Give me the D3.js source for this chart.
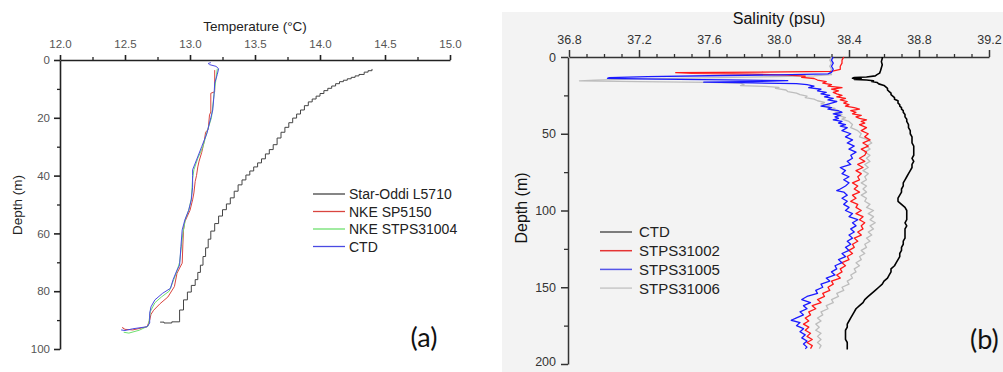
<!DOCTYPE html>
<html>
<head>
<meta charset="utf-8">
<script src="https://cdn.jsdelivr.net/npm/d3@7"></script>
<style>
  body { margin: 0; background: #fff; }
  svg { display: block; }
</style>
</head>
<body>
<svg width="1003" height="372"></svg>
<script>
// ---------- data: panel (a) temperature, pairs are [depth m, temperature °C]
const tempTicks = [12.0, 12.5, 13.0, 13.5, 14.0, 14.5, 15.0];
const tempMinor = [12.25, 12.75, 13.25, 13.75, 14.25, 14.75];
const depthTicksA = [0, 20, 40, 60, 80, 100];
const depthMinorA = [10, 30, 50, 70, 90];

// Star-Oddi logs in coarse steps: each pair = depth where a new level starts
const starOddi = [
  [3.1,14.40],[3.7,14.37],[4.2,14.34],[5.0,14.30],[5.5,14.27],[6.0,14.24],[6.5,14.21],
  [7.0,14.18],[7.5,14.15],[8.2,14.12],[9.0,14.09],[9.8,14.06],[10.6,14.03],[11.6,14.00],
  [12.5,13.97],[13.5,13.94],[14.5,13.91],[15.8,13.88],[17.3,13.85],[18.7,13.82],[20.1,13.79],
  [21.7,13.76],[23.3,13.73],[25.0,13.70],[27.0,13.67],[29.3,13.64],[31.0,13.61],[32.5,13.58],
  [34.2,13.55],[35.6,13.52],[37.0,13.49],[38.4,13.46],[39.8,13.43],[41.5,13.40],[43.2,13.37],
  [45.4,13.34],[47.7,13.31],[49.8,13.28],[51.8,13.25],[54.0,13.22],[56.6,13.19],[59.2,13.16],
  [62.0,13.14],[65.0,13.12],[68.0,13.10],[71.0,13.08],[73.5,13.06],[76.0,13.04],[78.0,13.01],
  [80.3,12.98],[83.0,12.95],[86.5,12.92],[90.0,12.92],[90.6,12.86],[91.0,12.80],[90.7,12.77]
];
const nkeSP5150 = [
  [3.5,13.19],[11,13.19],[11.5,13.16],[18,13.16],[19,13.15],[24,13.14],[25,13.12],[28,13.11],
  [30,13.10],[32,13.09],[35,13.07],[37,13.06],[40,13.05],[42,13.04],[46,13.03],[48.4,13.02],
  [52,13.00],[56,12.96],[58.8,12.95],[64,12.945],[70.3,12.94],[72,12.92],[73.8,12.90],
  [78.4,12.88],[82,12.83],[84.3,12.77],[86.6,12.72],[88,12.70],[90,12.69],[92.3,12.67],
  [93.4,12.56],[93.2,12.50],[92.6,12.48],[92.9,12.49]
];
const nkeSTPS31004 = [
  [3,13.21],[10,13.19],[20,13.165],[25,13.13],[30,13.10],[34,13.06],[38,13.03],[41,13.02],
  [48,13.01],[52,12.99],[55,12.965],[60,12.945],[66,12.93],[70,12.92],[73,12.90],[76,12.875],
  [80,12.84],[82,12.78],[84,12.73],[87,12.695],[92,12.68],[93.5,12.61],[94.5,12.53],[94.2,12.49]
];
const ctdA = [
  [0.9,13.16],[1.2,13.14],[1.6,13.15],[2.2,13.20],[3,13.22],[5,13.21],[8,13.19],[12,13.185],
  [17.3,13.175],[20,13.16],[25.4,13.13],[30,13.09],[34.6,13.05],[38,13.02],[40,13.02],
  [44,13.02],[48.4,13.01],[52,12.99],[55.4,12.96],[58.8,12.94],[64.6,12.93],[71,12.92],
  [72.7,12.90],[76,12.87],[79,12.85],[80.7,12.79],[83,12.73],[85.4,12.70],[87.6,12.69],
  [91,12.69],[92.3,12.67],[93,12.56],[93.6,12.50],[93.4,12.47]
];

// ---------- data: panel (b) salinity, pairs are [depth m, salinity psu]
const salTicks = [36.8, 37.2, 37.6, 38.0, 38.4, 38.8, 39.2];
const salMinor = [36.9,37.0,37.1,37.3,37.4,37.5,37.7,37.8,37.9,38.1,38.2,38.3,38.5,38.6,38.7,38.9,39.0,39.1];
const depthTicksB = [0, 50, 100, 150, 200];
const depthMinorB = [25, 75, 125, 175];

const ctdB = [
  [0,38.59],[1,38.59],[3,38.585],[5,38.59],[7,38.585],[9,38.58],[10.5,38.575],[11.5,38.56],
  [12.3,38.55],[13,38.50],[13.4,38.43],[13.8,38.42],[14.2,38.47],[14.6,38.43],[15,38.50],
  [15.5,38.54],[16,38.53],[16.6,38.56],[17.5,38.57],[18.5,38.60],[19.5,38.61],[20.5,38.62],
  [21.5,38.62],[22.5,38.63],[23.5,38.64],[24.5,38.64],[25.5,38.65],[26.5,38.66],[27.5,38.66],
  [28.5,38.68],[30,38.68],[31,38.69],[32,38.69],[33,38.70],[34,38.70],[35,38.71],[36,38.71],
  [37.5,38.72],[39,38.72],[40.5,38.73],[42,38.73],[44,38.74],[46,38.74],[48,38.75],[50,38.75],
  [52,38.76],[54,38.76],[56,38.76],[58,38.77],[60,38.77],[62,38.77],[64,38.77],[66,38.76],
  [68,38.77],[70,38.76],[72,38.76],[74,38.75],[76,38.74],[78,38.73],[80,38.72],[82,38.71],
  [84,38.71],[86,38.70],[88,38.70],[90,38.69],[92,38.68],[94,38.68],[96,38.70],[98,38.72],
  [100,38.73],[102,38.73],[104,38.73],[106,38.73],[108,38.72],[110,38.73],[112,38.72],
  [114,38.72],[116,38.72],[118,38.72],[120,38.71],[122,38.71],[124,38.70],[126,38.70],
  [128,38.69],[130,38.69],[132,38.68],[134,38.67],[136,38.66],[138,38.64],[140,38.64],
  [142,38.63],[144,38.62],[146,38.60],[148,38.59],[150,38.57],[152,38.55],[154,38.53],
  [156,38.51],[158,38.49],[160,38.48],[162,38.46],[164,38.44],[166,38.43],[168,38.42],
  [170,38.41],[172,38.40],[174,38.39],[176,38.39],[178,38.38],[180,38.38],[182,38.38],
  [184,38.38],[186,38.39],[188,38.39],[190.5,38.39]
];
const stps31002 = [
  [0,38.37],[2,38.36],[4,38.36],[6,38.35],[8,38.35],[9.3,38.30],[9.8,37.90],[10.2,37.41],
  [10.7,37.50],[11.2,37.85],[11.8,38.05],[12.5,38.15],[13.3,38.13],[14,38.20],[15,38.22],
  [16,38.27],[17,38.25],[18,38.30],[19,38.28],[20,38.36],[21,38.30],[22,38.34],[23,38.31],
  [24,38.33],[25,38.36],[26,38.33],[27,38.38],[28,38.35],[29,38.39],[30,38.37],[31,38.40],
  [32,38.38],[33,38.43],[34,38.46],[35,38.41],[36,38.44],[37,38.42],[38,38.47],[39,38.44],
  [40,38.46],[41,38.50],[42,38.47],[43,38.49],[44,38.46],[46,38.50],[48,38.47],[50,38.51],
  [52,38.49],[54,38.52],[56,38.48],[58,38.51],[60,38.47],[62,38.50],[64,38.49],[66,38.46],
  [68,38.49],[70,38.45],[72,38.48],[74,38.44],[76,38.47],[78,38.45],[80,38.46],[82,38.42],
  [84,38.45],[86,38.43],[88,38.46],[90,38.42],[92,38.44],[94,38.41],[96,38.45],[98,38.44],
  [100,38.47],[102,38.44],[104,38.48],[106,38.46],[108,38.49],[110,38.47],[112,38.48],
  [114,38.45],[116,38.47],[118,38.43],[120,38.45],[122,38.42],[124,38.43],[126,38.40],
  [128,38.42],[130,38.39],[132,38.40],[134,38.36],[136,38.38],[138,38.35],[140,38.36],
  [142,38.33],[144,38.35],[146,38.30],[148,38.31],[150,38.28],[152,38.29],[154,38.25],
  [156,38.26],[158,38.22],[160,38.24],[162,38.19],[164,38.21],[166,38.17],[168,38.18],
  [170,38.15],[172,38.17],[174,38.14],[176,38.17],[178,38.15],[180,38.18],[182,38.16],
  [184,38.19],[186,38.16],[188,38.19],[190,38.18]
];
const stps31005 = [
  [0,38.31],[2,38.30],[4,38.31],[6,38.30],[8,38.31],[10,38.30],[11,38.28],[11.6,38.00],
  [12.2,37.60],[12.8,37.25],[13.4,37.03],[13.9,37.02],[14.4,37.30],[14.9,37.70],[15.4,38.05],
  [15.9,37.90],[16.4,37.57],[16.9,37.85],[17.4,38.10],[18,38.16],[19,38.20],[20,38.17],
  [21,38.24],[22,38.22],[23,38.27],[24,38.24],[25,38.29],[26,38.26],[27,38.31],[28,38.28],
  [29,38.33],[30,38.30],[31,38.27],[32,38.24],[33,38.30],[34,38.28],[35,38.34],[36,38.36],
  [37,38.31],[38,38.35],[39,38.32],[40,38.34],[41,38.31],[42,38.36],[43,38.34],[44,38.38],
  [45,38.35],[46,38.39],[48,38.36],[50,38.41],[52,38.38],[54,38.42],[56,38.39],[58,38.43],
  [60,38.40],[62,38.44],[64,38.41],[66,38.42],[68,38.39],[70,38.41],[72,38.35],[74,38.38],
  [76,38.36],[78,38.40],[80,38.37],[82,38.40],[84,38.38],[86,38.35],[87,38.33],[88,38.37],
  [90,38.39],[92,38.36],[94,38.39],[96,38.37],[98,38.40],[100,38.38],[102,38.42],[104,38.40],
  [106,38.45],[108,38.42],[110,38.44],[112,38.41],[114,38.43],[116,38.40],[118,38.42],
  [120,38.39],[122,38.41],[124,38.38],[126,38.40],[128,38.36],[130,38.38],[132,38.34],
  [134,38.36],[136,38.32],[138,38.33],[140,38.30],[142,38.32],[144,38.27],[146,38.29],
  [148,38.24],[150,38.25],[152,38.21],[154,38.22],[156,38.16],[158,38.13],[160,38.18],
  [162,38.14],[164,38.16],[166,38.12],[168,38.14],[170,38.10],[171.5,38.07],[173,38.12],
  [175,38.10],[177,38.14],[179,38.12],[181,38.15],[183,38.13],[185,38.16],[187,38.14],
  [189,38.16],[190,38.15]
];
const stps31006 = [
  [0,38.30],[2,38.29],[4,38.30],[6,38.29],[8,38.30],[10,38.29],[11.5,38.30],[12.3,38.20],
  [13,37.90],[13.7,37.50],[14.4,37.15],[15,36.95],[15.5,36.86],[16,37.20],[16.5,37.60],
  [17,37.78],[18,37.80],[18.6,37.78],[19.2,37.92],[19.8,38.00],[20.5,37.98],[21.5,38.04],
  [22.5,38.05],[23.5,38.10],[24.5,38.12],[25.5,38.16],[26.5,38.15],[27.5,38.20],[28.5,38.22],
  [29.5,38.26],[30.5,38.24],[31.5,38.29],[32.5,38.27],[33.5,38.32],[34.5,38.30],[35.5,38.34],
  [36.5,38.32],[37.5,38.36],[38.5,38.35],[39.5,38.38],[40.5,38.36],[42,38.40],[44,38.42],
  [46,38.41],[48,38.45],[50,38.47],[52,38.46],[54,38.51],[56,38.53],[58,38.50],[60,38.52],
  [62,38.49],[64,38.52],[66,38.50],[68,38.52],[70,38.49],[72,38.51],[74,38.48],[76,38.51],
  [78,38.49],[80,38.50],[82,38.47],[84,38.50],[86,38.48],[88,38.50],[90,38.47],[92,38.50],
  [94,38.49],[96,38.52],[98,38.50],[100,38.54],[102,38.51],[104,38.54],[106,38.52],
  [108,38.55],[110,38.52],[112,38.54],[114,38.51],[116,38.53],[118,38.50],[120,38.52],
  [122,38.49],[124,38.50],[126,38.47],[128,38.49],[130,38.46],[132,38.47],[134,38.44],
  [136,38.46],[138,38.43],[140,38.44],[142,38.41],[144,38.42],[146,38.39],[148,38.40],
  [150,38.36],[152,38.37],[154,38.33],[156,38.34],[158,38.30],[160,38.31],[162,38.27],
  [164,38.28],[166,38.24],[168,38.25],[170,38.22],[172,38.24],[174,38.21],[176,38.23],
  [178,38.21],[180,38.24],[182,38.22],[184,38.24],[186,38.22],[188,38.24],[190,38.23]
];

const FONT = "Liberation Sans, Arial, sans-serif";
const svg = d3.select("svg");

function styleAxis(g, col, w, txtCol, size) {
  g.selectAll("path, line").attr("stroke", col).attr("stroke-width", w);
  g.selectAll("text").attr("fill", txtCol).attr("font-size", size).attr("font-family", FONT);
}

// ================= panel (a) =================
let ax = d3.scaleLinear().domain([12, 15]).range([60, 450]);
let ay = d3.scaleLinear().domain([0, 100]).range([60, 349]);
let ga = svg.append("g");

ga.append("g").attr("transform", "translate(0,60)")
  .call(d3.axisTop(ax).tickValues(tempMinor).tickSize(3).tickFormat("").tickSizeOuter(0))
  .call(g => g.select(".domain").remove())
  .call(g => styleAxis(g, "#222", 1.3, "#555", 11.5));
ga.append("g").attr("transform", "translate(0,60)")
  .call(d3.axisTop(ax).tickValues(tempTicks).tickSize(5).tickPadding(7).tickSizeOuter(0).tickFormat(d3.format(".1f")))
  .call(g => styleAxis(g, "#222", 1.6, "#555", 11.5));
ga.append("g").attr("transform", "translate(60,0)")
  .call(d3.axisLeft(ay).tickValues(depthMinorA).tickSize(3).tickFormat("").tickSizeOuter(0))
  .call(g => g.select(".domain").remove())
  .call(g => styleAxis(g, "#222", 1.3, "#555", 11.5));
ga.append("g").attr("transform", "translate(60,0)")
  .call(d3.axisLeft(ay).tickValues(depthTicksA).tickSize(6).tickPadding(4).tickSizeOuter(0))
  .call(g => styleAxis(g, "#222", 1.6, "#555", 11.5));

ga.append("text").attr("x", 255).attr("y", 31).attr("text-anchor", "middle")
  .attr("font-family", FONT).attr("font-size", 13.5).attr("fill", "#222")
  .text("Temperature (°C)");
ga.append("text").attr("transform", "translate(22,205) rotate(-90)").attr("text-anchor", "middle")
  .attr("font-family", FONT).attr("font-size", 13.5).attr("fill", "#222")
  .text("Depth (m)");

let seriesA = [
  { name: "Star-Oddi L5710", data: starOddi, color: "#444", curve: d3.curveStepBefore },
  { name: "NKE SP5150", data: nkeSP5150, color: "#d9453f", curve: d3.curveLinear },
  { name: "NKE STPS31004", data: nkeSTPS31004, color: "#6fe06f", curve: d3.curveLinear },
  { name: "CTD", data: ctdA, color: "#4a4ae2", curve: d3.curveLinear }
];
seriesA.forEach(s => {
  let line = d3.line().x(d => ax(d[1])).y(d => ay(d[0])).curve(s.curve);
  ga.append("path").attr("d", line(s.data)).attr("fill", "none")
    .attr("stroke", s.color).attr("stroke-width", 1).attr("stroke-linejoin", "round");
});

let legA = ga.append("g").attr("transform", "translate(313,194)");
seriesA.forEach((s, i) => {
  let row = legA.append("g").attr("transform", `translate(0,${i * 17.5})`);
  row.append("line").attr("x1", 0).attr("x2", 32).attr("stroke", s.color).attr("stroke-width", 1.3);
  row.append("text").attr("x", 36).attr("dy", "0.36em").attr("font-family", FONT)
    .attr("font-size", 14).attr("fill", "#222").text(s.name);
});

ga.append("text").attr("x", 424).attr("y", 347).attr("text-anchor", "middle")
  .attr("font-family", "Lato, Open Sans, sans-serif").attr("font-size", 27).attr("fill", "#111")
  .text("(a)");

// ================= panel (b) =================
let gb = svg.append("g");
gb.append("rect").attr("x", 502).attr("y", 12).attr("width", 501).attr("height", 360).attr("fill", "#f3f3f3");

let bx = d3.scaleLinear().domain([36.8, 39.2]).range([569, 989]);
let by = d3.scaleLinear().domain([0, 200]).range([57, 364]);

gb.append("g").attr("transform", "translate(0,57)")
  .call(d3.axisTop(bx).tickValues(salMinor).tickSize(3).tickFormat("").tickSizeOuter(0))
  .call(g => g.select(".domain").remove())
  .call(g => styleAxis(g, "#333", 1.3, "#333", 12.5));
gb.append("g").attr("transform", "translate(0,57)")
  .call(d3.axisTop(bx).tickValues(salTicks).tickSize(7).tickPadding(6).tickSizeOuter(0).tickFormat(d3.format(".1f")))
  .call(g => styleAxis(g, "#333", 1.5, "#333", 12.5));
gb.append("g").attr("transform", "translate(568,0)")
  .call(d3.axisLeft(by).tickValues(depthMinorB).tickSize(4).tickFormat("").tickSizeOuter(0))
  .call(g => g.select(".domain").remove())
  .call(g => styleAxis(g, "#333", 1.3, "#333", 12.5));
gb.append("g").attr("transform", "translate(568,0)")
  .call(d3.axisLeft(by).tickValues(depthTicksB).tickSize(7).tickPadding(5).tickSizeOuter(0))
  .call(g => styleAxis(g, "#333", 1.5, "#333", 12.5))
  .call(g => g.selectAll(".tick text").filter(d => d === 200).attr("dy", "0.1em"));

gb.append("text").attr("x", 779).attr("y", 24).attr("text-anchor", "middle")
  .attr("font-family", FONT).attr("font-size", 16).attr("fill", "#111")
  .text("Salinity (psu)");
gb.append("text").attr("transform", "translate(527,208) rotate(-90)").attr("text-anchor", "middle")
  .attr("font-family", FONT).attr("font-size", 16).attr("fill", "#111")
  .text("Depth (m)");

let seriesB = [
  { name: "CTD", data: ctdB, color: "#000", legend: "#555", w: 1.6 },
  { name: "STPS31002", data: stps31002, color: "#ff1a1a", legend: "#e53333", w: 1.3 },
  { name: "STPS31005", data: stps31005, color: "#1a1aff", legend: "#5555e8", w: 1.3 },
  { name: "STPS31006", data: stps31006, color: "#bdbdbd", legend: "#c8c8c8", w: 1.3 }
];
let lineB = d3.line().x(d => bx(d[1])).y(d => by(d[0]));
[3, 1, 2, 0].forEach(i => {
  let s = seriesB[i];
  gb.append("path").attr("d", lineB(s.data)).attr("fill", "none")
    .attr("stroke", s.color).attr("stroke-width", s.w).attr("stroke-linejoin", "round");
});

let legB = gb.append("g").attr("transform", "translate(600,232)");
seriesB.forEach((s, i) => {
  let row = legB.append("g").attr("transform", `translate(0,${i * 18.7})`);
  row.append("line").attr("x1", 0).attr("x2", 32).attr("stroke", s.legend).attr("stroke-width", 1.5);
  row.append("text").attr("x", 39).attr("dy", "0.36em").attr("font-family", FONT)
    .attr("font-size", 15).attr("fill", "#222").text(s.name);
});

gb.append("text").attr("x", 970).attr("y", 349)
  .attr("font-family", "Lato, Open Sans, sans-serif").attr("font-size", 27).attr("fill", "#111")
  .text("(b)");
</script>
</body>
</html>
